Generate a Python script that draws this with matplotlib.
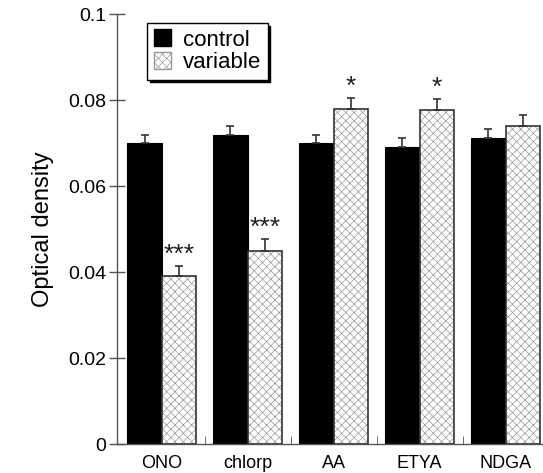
import matplotlib
matplotlib.use("Agg")
import matplotlib.pyplot as plt
import numpy as np
from matplotlib.patches import Patch

# data
groups = ["ONO", "chlorp", "AA", "ETYA", "NDGA"]
control = [0.070, 0.072, 0.070, 0.069, 0.0712]
control_err = [0.002, 0.002, 0.002, 0.0023, 0.002]
variable = [0.039, 0.045, 0.078, 0.0776, 0.074]
variable_err = [0.0025, 0.0026, 0.0026, 0.0026, 0.0026]
stars = ["***", "***", "*", "*", ""]
yticks = [0, 0.02, 0.04, 0.06, 0.08, 0.1]
ytick_labels = ["0", "0.02", "0.04", "0.06", "0.08", "0.1"]

plt.rcParams["font.family"] = ["Liberation Sans", "DejaVu Sans"]
plt.rcParams["hatch.linewidth"] = 0.5

fig = plt.figure(figsize=(5.43, 4.73), dpi=100)
ax = fig.add_axes([0.2155, 0.0613, 0.79, 0.9087])

x = np.arange(len(groups))
w = 0.4
ax.bar(x - w / 2, control, w, color="black", edgecolor="black", linewidth=0.8,
       yerr=[np.zeros(len(groups)), control_err],
       error_kw=dict(ecolor="#333333", elinewidth=1.2, capsize=3, capthick=1.2), zorder=2)
# hatched fill drawn first, outline on top
ax.bar(x + w / 2, variable, w, color="white", edgecolor="#999999", hatch="xxxx",
       linewidth=0, zorder=2)
ax.bar(x + w / 2, variable, w, fill=False, edgecolor="#333333", linewidth=1.2,
       yerr=[np.zeros(len(groups)), variable_err],
       error_kw=dict(ecolor="#333333", elinewidth=1.2, capsize=3, capthick=1.2), zorder=3)

for xi, v, e, s in zip(x, variable, variable_err, stars):
    if s:
        ax.text(xi + w / 2, v + e - 0.0002, s, ha="center", va="bottom",
                fontsize=19, color="#222222")

ax.set_xlim(-0.52, 4.47)
ax.set_ylim(0, 0.1)
ax.set_yticks(yticks)
ax.set_yticklabels(ytick_labels, fontsize=14)
ax.set_xticks(x)
ax.set_xticklabels(groups, fontsize=13)
ax.tick_params(axis="x", length=0, pad=8)
ax.set_xticks(x[:-1] + 0.5, minor=True)
ax.tick_params(axis="x", which="minor", direction="in", length=6, color="#555555")
ax.tick_params(axis="y", direction="inout", length=12, width=1, color="#555555", pad=2)

for side in ["top", "right"]:
    ax.spines[side].set_visible(False)
for side in ["left", "bottom"]:
    ax.spines[side].set_color("#555555")
    ax.spines[side].set_linewidth(1)

ax.set_ylabel("Optical density", fontsize=17, labelpad=10)

handles = [Patch(facecolor="black", edgecolor="black"),
           Patch(facecolor="white", edgecolor="#999999", hatch="xxxx")]
leg = ax.legend(handles, ["control", "variable"], loc="upper left",
                bbox_to_anchor=(0.07, 0.98), fontsize=16, frameon=True,
                fancybox=False, shadow={"color": "black", "alpha": 1},
                handlelength=0.8, handleheight=0.8,
                handletextpad=0.5, borderpad=0.3, labelspacing=0.05,
                borderaxespad=0)
leg.get_frame().set_edgecolor("black")
leg.get_frame().set_linewidth(1)

fig.savefig("out.png", dpi=100)
